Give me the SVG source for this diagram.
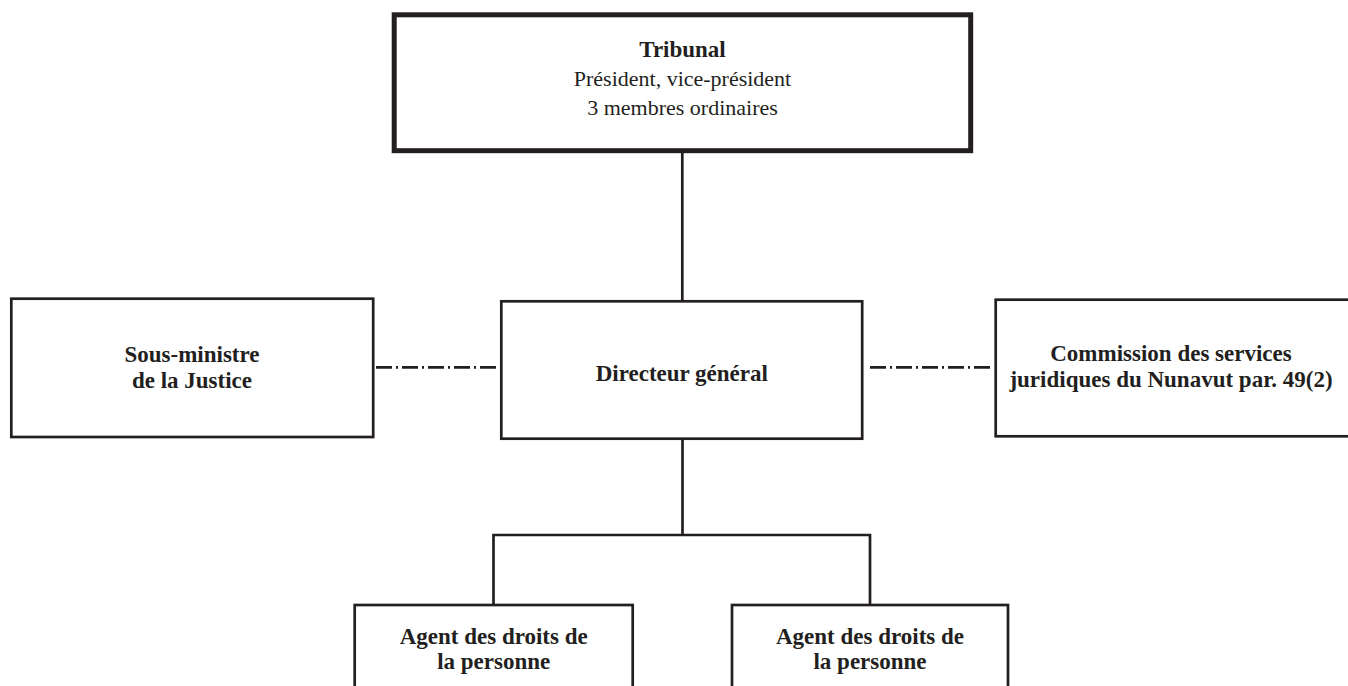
<svg xmlns="http://www.w3.org/2000/svg" width="1348" height="686" viewBox="0 0 1348 686">
<style>
.box{fill:#fff;stroke:#231f20;stroke-width:2.7}
.thick{fill:#fff;stroke:#231f20;stroke-width:5}
.ln{fill:none;stroke:#231f20;stroke-width:2.7}
.dd{fill:none;stroke:#231f20;stroke-width:2.7;stroke-dasharray:16 4 2 4}
text{font-family:"Liberation Serif","Times New Roman",serif;fill:#231f20;text-anchor:middle}
.b{font-weight:bold;font-size:23px}
.r{font-size:22px}
</style>
<rect width="1348" height="686" fill="#fff"/>
<g id="connectors">
<line class="ln" x1="682.3" y1="150.7" x2="682.3" y2="301.3"/>
<line class="ln" x1="682.5" y1="438.7" x2="682.5" y2="535"/>
<polyline class="ln" points="493.5,605 493.5,535 870,535 870,605"/>
<line class="dd" x1="376" y1="367.3" x2="496" y2="367.3"/>
<line class="dd" x1="870" y1="367.3" x2="990" y2="367.3"/>
</g>
<g id="tribunal">
<rect class="thick" x="394.2" y="14.8" width="576.5" height="135.9"/>
<text class="b" x="682.5" y="57">Tribunal</text>
<text class="r" x="682.5" y="86">Président, vice-président</text>
<text class="r" x="682.5" y="115">3 membres ordinaires</text>
</g>
<g id="sous-ministre">
<rect class="box" x="11.3" y="298.7" width="361.9" height="138.3"/>
<text class="b" x="192" y="362">Sous-ministre</text>
<text class="b" x="192" y="388">de la Justice</text>
</g>
<g id="directeur">
<rect class="box" x="501.3" y="301.3" width="360.9" height="137.4"/>
<text class="b" x="681.8" y="381">Directeur général</text>
</g>
<g id="commission">
<rect class="box" x="995.7" y="299.7" width="400" height="136.6"/>
<text class="b" x="1171" y="361">Commission des services</text>
<text class="b" x="1171" y="387">juridiques du Nunavut par. 49(2)</text>
</g>
<g id="agent-1">
<rect class="box" x="354.7" y="605" width="278" height="120"/>
<text class="b" x="493.7" y="644">Agent des droits de</text>
<text class="b" x="493.7" y="669">la personne</text>
</g>
<g id="agent-2">
<rect class="box" x="732" y="605" width="276" height="120"/>
<text class="b" x="870" y="644">Agent des droits de</text>
<text class="b" x="870" y="669">la personne</text>
</g>
</svg>
